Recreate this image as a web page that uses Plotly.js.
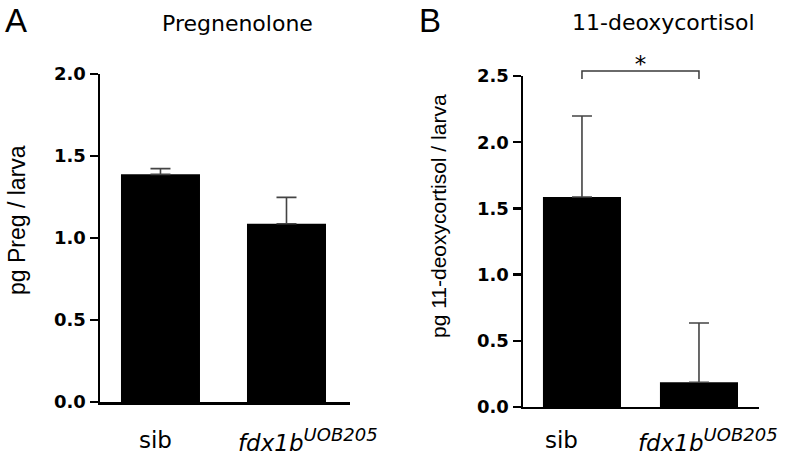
<!DOCTYPE html>
<html><head><meta charset="utf-8">
<script src="https://cdn.plot.ly/plotly-3.0.1.min.js"></script>
<style>html,body{margin:0;padding:0;background:#fff}#chart{width:788px;height:456px}</style>
</head><body><div id="chart"></div>
<script>
// ---- data ----
const categories = ['sib', '<i>fdx1b<sup><span style="font-size:18px">UOB205</span></sup></i>'];
const pregMean = [1.388, 1.087];
const pregErr = [0.035, 0.161];
const deoxyMean = [1.586, 0.187];
const deoxyErr = [0.612, 0.447];
const pregTicks = [0, 0.5, 1.0, 1.5, 2.0];
const deoxyTicks = [0, 0.5, 1.0, 1.5, 2.0, 2.5];
const sigPair = [0, 1];
const sigLevel = 2.538;
const sigDrop = 2.477;
const sigStarLevel = 2.575;
const sigLabel = '*';
const panelTitles = ['Pregnenolone', '11-deoxycortisol'];
const yTitles = ['pg Preg / larva', 'pg 11-deoxycortisol / larva'];
const panelLetters = ['A', 'B'];

// ---- layout helpers ----
const xPos = categories.map((_, i) => i);
const zeros = categories.map(() => 0);
const tickFont = {family: 'DejaVu Sans', size: 18, color: '#000', weight: 700};
const errStyle = {type: 'data', symmetric: false, arrayminus: zeros, color: '#444', thickness: 1.6, width: 10};

const y2Dom = [0.10746, 0.83333];
const y2Range = [0, 2.5];
const y3Dom = [y2Dom[0], 1];
const y3Top = y2Range[1] * (y3Dom[1] - y3Dom[0]) / (y2Dom[1] - y2Dom[0]);

const traces = [
  {type: 'bar', x: xPos, y: pregMean, xaxis: 'x', yaxis: 'y', width: 0.627,
   marker: {color: '#000', line: {width: 0}}, error_y: Object.assign({array: pregErr}, errStyle), hoverinfo: 'skip'},
  {type: 'bar', x: xPos, y: deoxyMean, xaxis: 'x2', yaxis: 'y2', width: 0.667,
   marker: {color: '#000', line: {width: 0}}, error_y: Object.assign({array: deoxyErr}, errStyle), hoverinfo: 'skip'},
  {type: 'scatter', mode: 'lines', xaxis: 'x2', yaxis: 'y3',
   x: [sigPair[0], sigPair[0], sigPair[1], sigPair[1]], y: [sigDrop, sigLevel, sigLevel, sigDrop],
   line: {color: '#3a3a3a', width: 1.5}, hoverinfo: 'skip'},
  {type: 'scatter', mode: 'text', xaxis: 'x2', yaxis: 'y3',
   x: [(sigPair[0] + sigPair[1]) / 2], y: [sigStarLevel], text: [sigLabel], textposition: 'middle center',
   textfont: {family: 'DejaVu Sans', size: 23, color: '#000'}, cliponaxis: false, hoverinfo: 'skip'}
];

const xBase = {showline: true, linewidth: 2.5, linecolor: '#000', ticks: '', showticklabels: false,
  showgrid: false, zeroline: false, fixedrange: true};
const yBase = {showline: true, linewidth: 2.5, linecolor: '#000', ticks: 'outside', ticklen: 8, tickwidth: 2.5,
  tickcolor: '#000', tickformat: '.1f', tickfont: tickFont, showgrid: false, zeroline: false, fixedrange: true,
  tickmode: 'array'};

const labelFont = {family: 'DejaVu Sans', size: 22, color: '#000'};
const catFont = {family: 'DejaVu Sans', size: 23, color: '#000'};
const annotations = [];
// panel letters
annotations.push({xref: 'paper', yref: 'paper', x: 16/788, y: 1 - 20/456, text: panelLetters[0], showarrow: false,
  font: {family: 'Liberation Sans', size: 33, color: '#000'}, xanchor: 'center', yanchor: 'middle'});
annotations.push({xref: 'paper', yref: 'paper', x: 430/788, y: 1 - 20/456, text: panelLetters[1], showarrow: false,
  font: {family: 'Liberation Sans', size: 33, color: '#000'}, xanchor: 'center', yanchor: 'middle'});
// panel titles
annotations.push({xref: 'paper', yref: 'paper', x: 237/788, y: 1 - 24/456, text: panelTitles[0], showarrow: false,
  font: labelFont, xanchor: 'center', yanchor: 'middle'});
annotations.push({xref: 'paper', yref: 'paper', x: 663/788, y: 1 - 23/456, text: panelTitles[1], showarrow: false,
  font: labelFont, xanchor: 'center', yanchor: 'middle'});
// y titles
annotations.push({xref: 'paper', yref: 'paper', x: 17/788, y: 1 - 220/456, text: yTitles[0], showarrow: false, textangle: -90,
  font: {family: 'Liberation Sans', size: 23, color: '#000'}, xanchor: 'center', yanchor: 'middle'});
annotations.push({xref: 'paper', yref: 'paper', x: 439/788, y: 1 - 216/456, text: yTitles[1], showarrow: false, textangle: -90,
  font: {family: 'Liberation Sans', size: 21, color: '#000'}, xanchor: 'center', yanchor: 'middle'});
// category labels
const shiftsA = [-4.5, 21.5];
const shiftsB = [-20.5, 9];
categories.forEach((c, i) => {
  annotations.push({xref: 'x', yref: 'paper', x: i, y: 1 - 440/456, xshift: shiftsA[i], text: c, showarrow: false,
    font: catFont, xanchor: 'center', yanchor: 'middle'});
  annotations.push({xref: 'x2', yref: 'paper', x: i, y: 1 - 440/456, xshift: shiftsB[i], text: c, showarrow: false,
    font: catFont, xanchor: 'center', yanchor: 'middle'});
});

const layout = {
  width: 788, height: 456, margin: {l: 0, r: 0, t: 0, b: 0},
  paper_bgcolor: '#fff', plot_bgcolor: 'rgba(0,0,0,0)', showlegend: false,
  xaxis: Object.assign({}, xBase, {domain: [100/788, 350/788], range: [-0.48, 1.504], anchor: 'y'}),
  yaxis: Object.assign({}, yBase, {domain: [54/456, 382/456], range: [0, 2.0], tickvals: pregTicks, anchor: 'x'}),
  xaxis2: Object.assign({}, xBase, {domain: [523/788, 759/788], range: [-0.504, 1.513], anchor: 'y2'}),
  yaxis2: Object.assign({}, yBase, {domain: y2Dom, range: y2Range, tickvals: deoxyTicks, anchor: 'x2'}),
  yaxis3: {domain: y3Dom, range: [0, y3Top], anchor: 'x2', visible: false, fixedrange: true, showgrid: false, zeroline: false},
  annotations: annotations
};

Plotly.newPlot('chart', traces, layout, {displayModeBar: false, staticPlot: true});
</script>
</body></html>
